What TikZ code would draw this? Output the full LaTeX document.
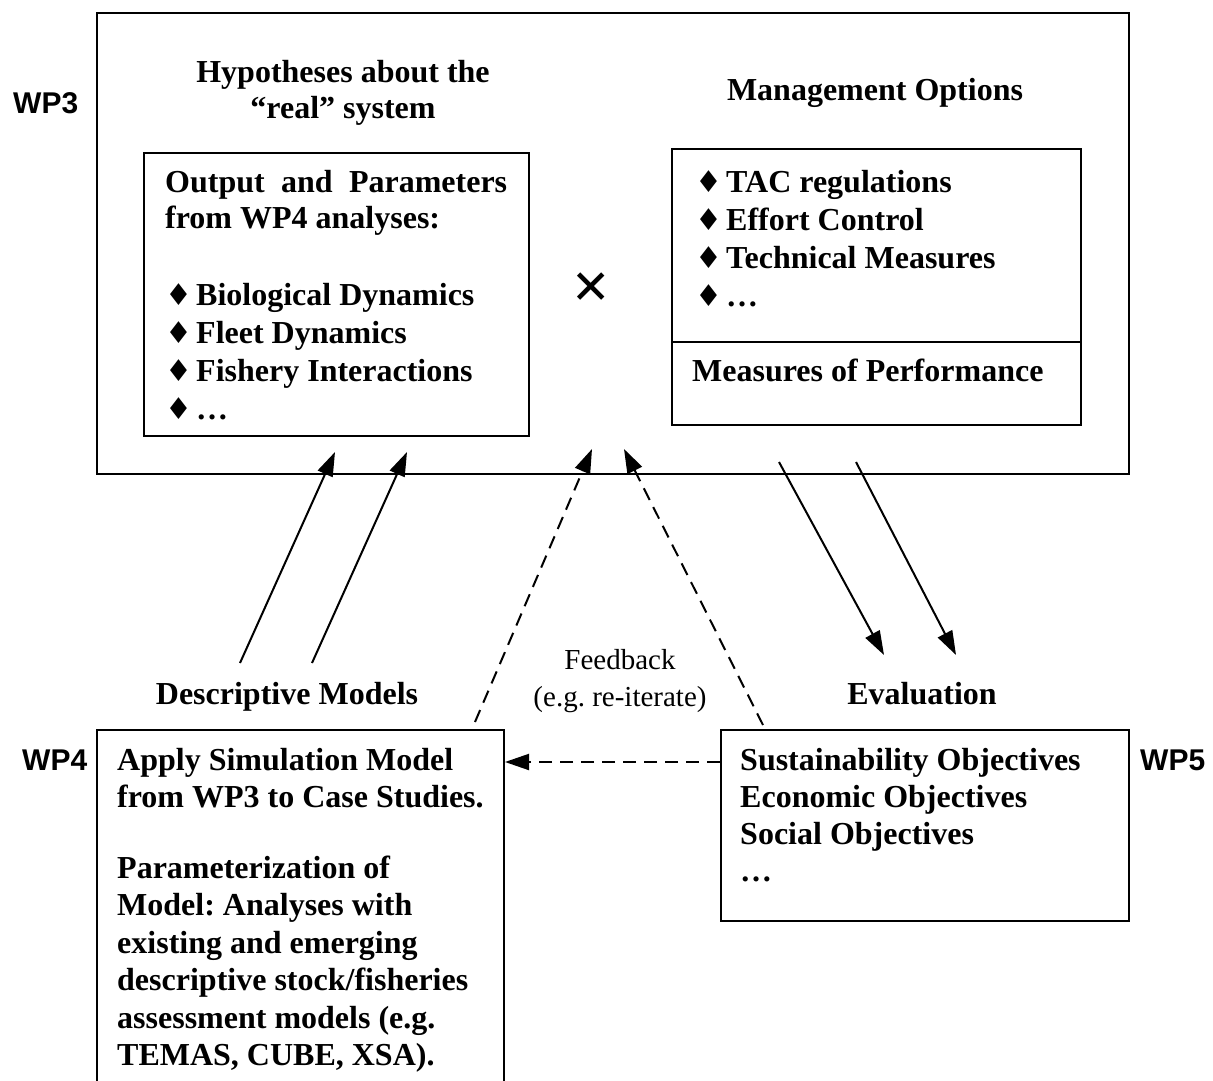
\documentclass[tikz,border=0pt]{standalone}
\usepackage{fontspec}
\setmainfont{Liberation Serif}
\newfontfamily\wpfont{Liberation Sans}
\newfontfamily\bulfont{DejaVu Sans}
\usetikzlibrary{arrows.meta}
% diamond bullet followed by a fixed gap
\newcommand\bul{\makebox[31pt][l]{\bulfont\fontsize{30}{30}\selectfont ♦}}
\newcommand\bigtimes{\fontsize{66}{66}\selectfont\bfseries ×}
\frenchspacing
\begin{document}
\frenchspacing
\begin{tikzpicture}[x=1pt,y=-1pt,
  boxframe/.style={draw,line width=2pt,rectangle,anchor=north west,inner sep=0pt},
  body/.style={font=\bfseries\fontsize{32}{37.5}\selectfont,inner sep=0pt},
  ln/.style={body,anchor=base west},
  hd/.style={body,anchor=base},
  wplabel/.style={font=\wpfont\bfseries\fontsize{30}{30}\selectfont,inner sep=0pt,anchor=base west},
  note/.style={font=\fontsize{29}{37}\selectfont,inner sep=0pt,anchor=base},
  link/.style={line width=2pt,-{Triangle[length=24pt,width=16pt]}},
  fblink/.style={link,dash pattern=on 13pt off 8pt}
]
\clip (0,0) rectangle (1213,1081);

% ---- WP3: simulation frame ----
\node[boxframe,minimum width=1032pt,minimum height=461pt] (wp3box) at (96,12) {};
\node[wplabel] (wp3) at (13,113) {WP3};
\node[hd] (hyp1) at (343,83) {Hypotheses about the};
\node[hd] (hyp2) at (343,118) {“real” system};
\node[hd] (mgmt) at (875,100) {Management Options};

\node[boxframe,minimum width=385pt,minimum height=283pt] (hyp) at (143,152) {};
\node[ln] (hypa) at (165,192) {\makebox[342pt][s]{Output and Parameters}};
\foreach \yy/\tx [count=\i] in {228/{from WP4 analyses:},305/{\bul Biological Dynamics},
    343/{\bul Fleet Dynamics},381/{\bul Fishery Interactions},419/{\bul …}}
  \node[ln] (hypl\i) at (165,\yy) {\tx};

\node[boxframe,minimum width=409pt,minimum height=193pt] (opts) at (671,148) {};
\node[boxframe,minimum width=409pt,minimum height=83pt] (perf) at (671,341) {};
\foreach \yy/\tx [count=\i] in {192/{\bul TAC regulations},230/{\bul Effort Control},
    268/{\bul Technical Measures},306/{\bul …}}
  \node[ln] (optl\i) at (695,\yy) {\tx};
\node[ln] (perfl) at (692,381) {Measures of Performance};

\node[inner sep=0pt] (times) at (591,291) {\bigtimes};

% ---- WP4: descriptive models ----
\node[hd] (desc) at (287,704) {Descriptive Models};
\node[wplabel] (wp4) at (22,770) {WP4};
\node[boxframe,minimum width=407pt,minimum height=380pt] (wp4box) at (96,729) {};
\foreach \yy/\tx [count=\i] in {770/{Apply Simulation Model},807.5/{from WP3 to Case Studies.},
    878/{Parameterization of},915.5/{Model: Analyses with},953/{existing and emerging},
    990.5/{descriptive stock/fisheries},1028/{assessment models (e.g.},1065.5/{TEMAS, CUBE, XSA).}}
  \node[ln] (wp4l\i) at (117,\yy) {\tx};

% ---- WP5: evaluation ----
\node[hd] (eval) at (922,704) {Evaluation};
\node[wplabel] (wp5) at (1140,770) {WP5};
\node[boxframe,minimum width=408pt,minimum height=191pt] (wp5box) at (720,729) {};
\foreach \yy/\tx [count=\i] in {770/{Sustainability Objectives},807/{Economic Objectives},
    844/{Social Objectives},881/{…}}
  \node[ln] (wp5l\i) at (740,\yy) {\tx};

% ---- feedback label ----
\node[note] (fb1) at (620,669) {Feedback};
\node[note] (fb2) at (620,706) {(e.g. re-iterate)};

% ---- connector end points ----
\coordinate (d1s) at (240,663); \coordinate (d1e) at (335,452);
\coordinate (d2s) at (312,663); \coordinate (d2e) at (407,452);
\coordinate (f1s) at (475,722); \coordinate (f1e) at (592,449);
\coordinate (f2s) at (763,725); \coordinate (f2e) at (624,449);
\coordinate (e1s) at (779,462); \coordinate (e1e) at (884,655);
\coordinate (e2s) at (856,462); \coordinate (e2e) at (956,655);
\coordinate (fbrow) at (610,762);

\draw[link] (d1s) -- (d1e);
\draw[link] (d2s) -- (d2e);
\draw[fblink] (f1s) -- (f1e);
\draw[fblink] (f2s) -- (f2e);
\draw[link] (e1s) -- (e1e);
\draw[link] (e2s) -- (e2e);
\draw[fblink] (wp5box.west |- fbrow) -- (wp4box.east |- fbrow);
\end{tikzpicture}
\end{document}
